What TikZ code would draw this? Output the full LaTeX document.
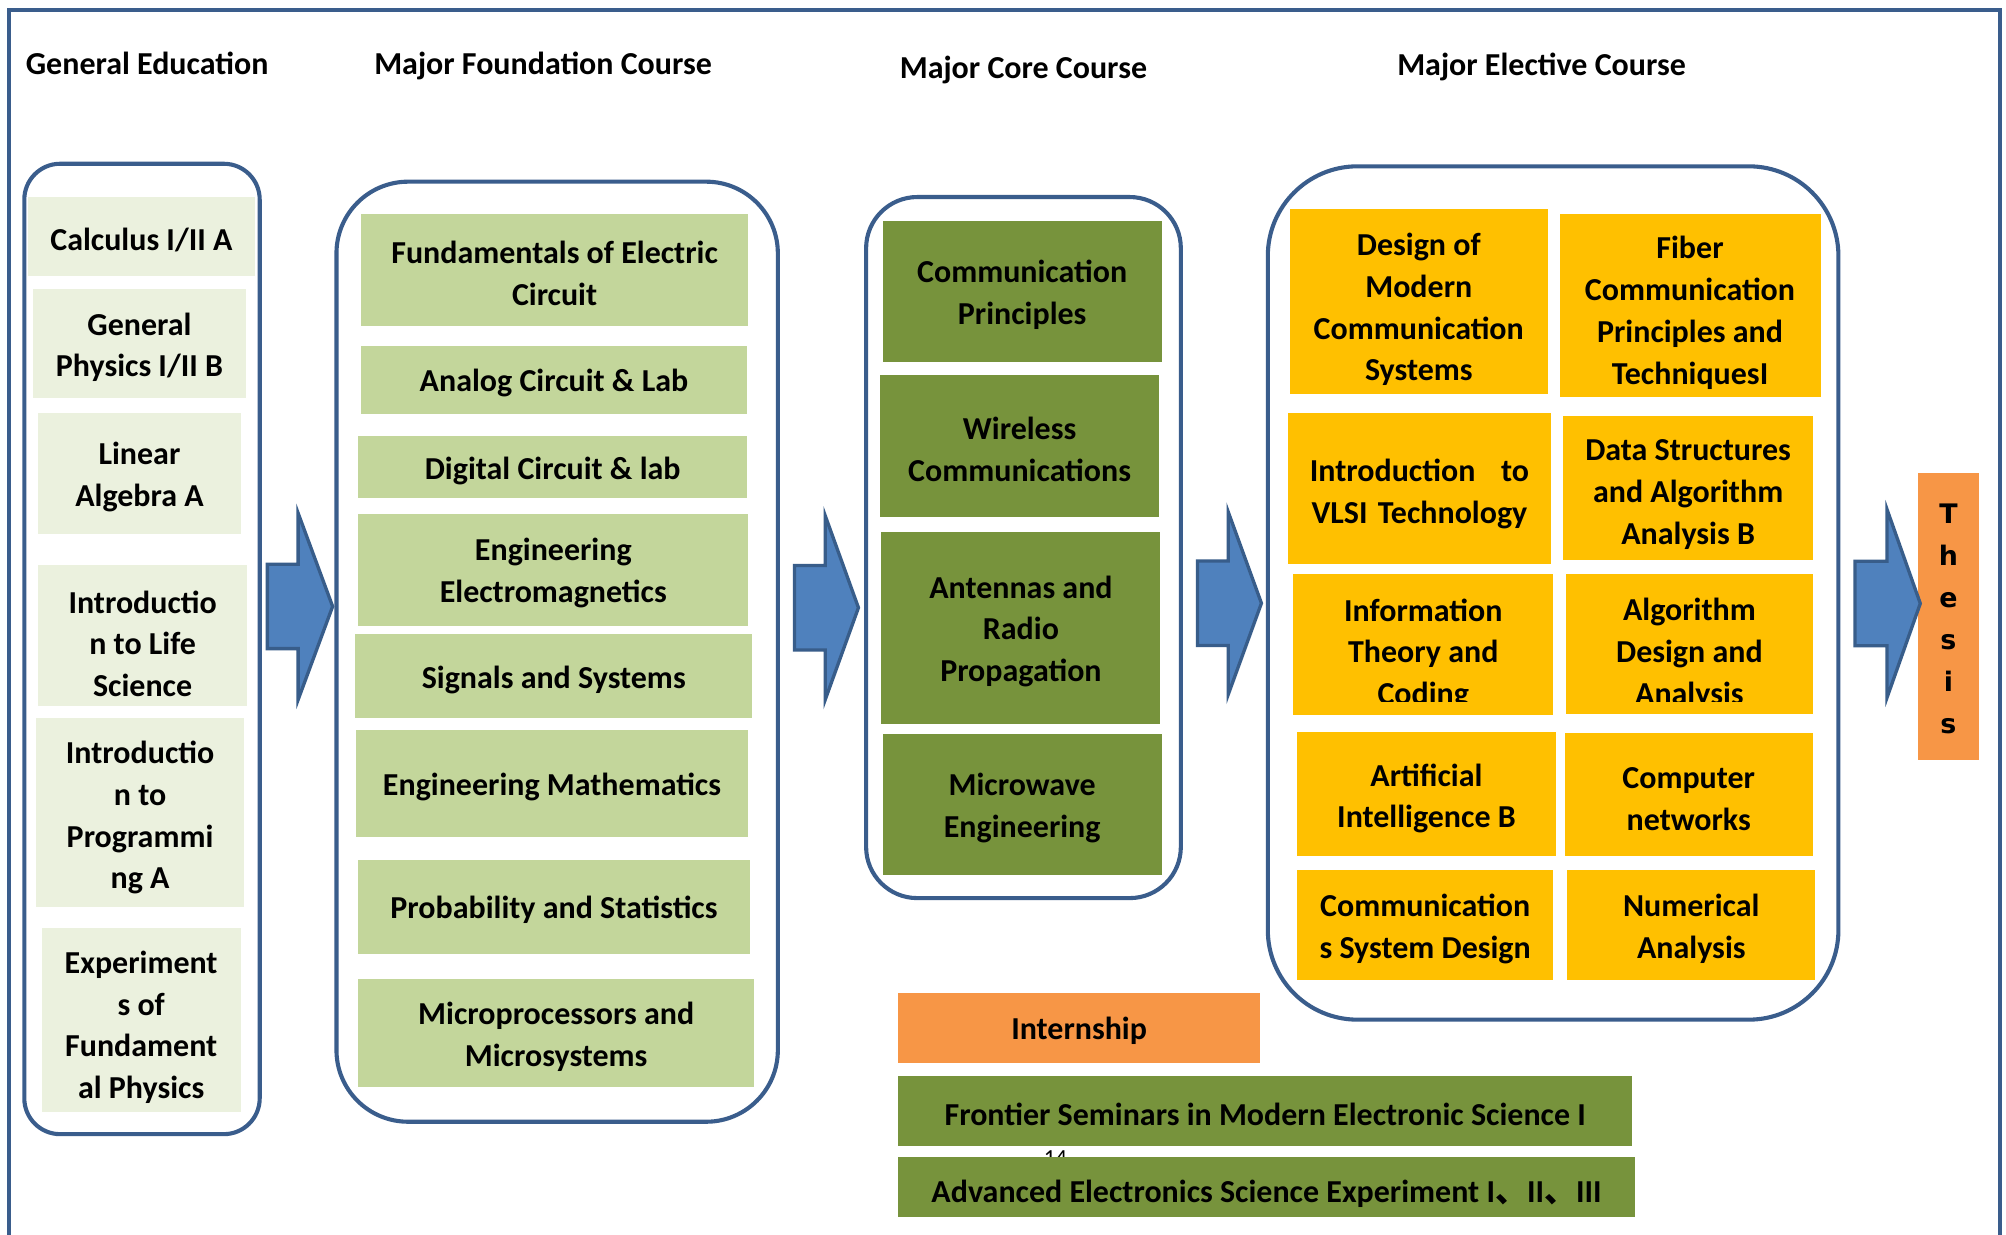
\documentclass[tikz,border=0pt]{standalone}
\usepackage{fontspec}
\setmainfont{Carlito}
\newfontfamily\cjk{Noto Sans CJK SC}
\newfontfamily\thesisfont{DejaVu Sans}
\definecolor{edge}{HTML}{3A5D8C}
\definecolor{gefill}{HTML}{EBF1DE}
\definecolor{fdfill}{HTML}{C3D69B}
\definecolor{corefill}{HTML}{77933C}
\definecolor{elfill}{HTML}{FFC000}
\definecolor{orfill}{HTML}{F79646}
\definecolor{arfill}{HTML}{4F81BD}
\definecolor{arline}{HTML}{385D8A}
\newcommand\cbox[8]{%
  \node[#2, minimum width={(#5-#3)*0.5pt}, minimum height={(#6-#4)*0.5pt}] (#1) at ({(#3+#5)/2},{(#4+#6)/2}) {};
  \node[txt] (#1t) at ([yshift={-(#8+2.5)*0.5pt}]#1.center) {#7};}
\newcommand\ccbox[9]{%
  \node[#2, minimum width={(#5-#3)*0.5pt}, minimum height={(#6-#4)*0.5pt}] (#1) at ({(#3+#5)/2},{(#4+#6)/2}) {};
  \begin{scope}
    \clip (#3,#4) rectangle (#5,#9);
    \node[txt] (#1t) at ([yshift={-(#8+2.5)*0.5pt}]#1.center) {#7};
  \end{scope}}
\newcommand\gframe[6]{%
  \node[grp, rounded corners=#6, minimum width={(#4-#2)*0.5pt}, minimum height={(#5-#3)*0.5pt}] (#1) at ({(#2+#4)/2},{(#3+#5)/2}) {};}
\newcommand\barrow[6]{%
  \draw[arrowsty] (#1,{#4-#5}) -- (#2,{#4-#5}) -- (#2,{#4-#6}) -- (#3,#4) -- (#2,{#4+#6}) -- (#2,{#4+#5}) -- (#1,{#4+#5}) -- cycle;}
\begin{document}
\begin{tikzpicture}[x=0.5pt,y=-0.5pt,
  txt/.style={font=\fontsize{12.5pt}{16.3pt}\selectfont\bfseries, align=center, inner sep=0pt, text=black},
  head/.style={txt, anchor=base},
  bx/.style={inner sep=0pt, outer sep=0pt, draw=none},
  gebox/.style={bx, fill=gefill},
  fdbox/.style={bx, fill=fdfill},
  cobox/.style={bx, fill=corefill},
  elbox/.style={bx, fill=elfill},
  orbox/.style={bx, fill=orfill},
  grp/.style={draw=edge, line width=1.6pt, inner sep=0pt, fill=none},
  outer/.style={draw=edge, line width=1.5pt},
  arrowsty/.style={fill=arfill, draw=arline, line width=1.3pt, line join=miter},
  thtxt/.style={font=\fontsize{10.5pt}{16.4pt}\selectfont\thesisfont\bfseries, align=center, inner sep=0pt, text=black},
  pgnum/.style={font=\fontsize{9pt}{10pt}\selectfont, anchor=base, inner sep=0pt}
]
\path[use as bounding box, fill=white] (0,0) rectangle (1568,965);
\draw[outer] (7,1000) -- (7,8) -- (1563,8) -- (1563,1000);

% headings
\node[head] (h1) at (115,58) {General Education};
\node[head] (h2) at (424.5,58) {Major Foundation Course};
\node[head] (h3) at (800,61.5) {Major Core Course};
\node[head] (h4) at (1205,59) {Major Elective Course};

% group frames
\gframe{ge}{19}{128}{203}{886.5}{14pt}
\gframe{fd}{263}{142}{608}{876.8}{28pt}
\gframe{co}{677}{154}{923}{702}{20pt}
\gframe{el}{991}{130}{1437}{797}{35pt}

% general education
\cbox{g1}{gebox}{22}{154}{199}{215.5}{Calculus I/II A}{0}
\cbox{g2}{gebox}{26}{226}{192}{311}{General\\Physics I/II B}{0.5}
\cbox{g3}{gebox}{30}{323}{188}{417.5}{Linear\\Algebra A}{0}
\cbox{g4}{gebox}{30}{441.6}{193}{551.6}{Introductio\\n to Life\\Science}{4}
\cbox{g5}{gebox}{28}{561.5}{191}{708.7}{Introductio\\n to\\Programmi\\ng A}{1.5}
\cbox{g6}{gebox}{32.7}{725}{188}{869}{Experiment\\s of\\Fundament\\al Physics}{3.5}

% foundation
\cbox{f1}{fdbox}{282}{167}{585}{255}{Fundamentals of Electric\\Circuit}{0}
\cbox{f2}{fdbox}{282}{270.5}{584}{323.6}{Analog Circuit \& Lab}{0}
\cbox{f3}{fdbox}{280}{340.8}{584}{389}{Digital Circuit \& lab}{1}
\cbox{f4}{fdbox}{280}{401.8}{585}{489}{Engineering\\Electromagnetics}{0}
\cbox{f5}{fdbox}{277.6}{495.8}{588}{561.5}{Signals and Systems}{0}
\cbox{f6}{fdbox}{278}{570.6}{585}{654}{Engineering Mathematics}{0}
\cbox{f7}{fdbox}{280}{672}{586}{746}{Probability and Statistics}{0}
\cbox{f8}{fdbox}{280}{765.3}{589.5}{850}{Microprocessors and\\Microsystems}{0}

% core
\cbox{c1}{cobox}{690}{173}{908}{283}{Communication\\Principles}{0}
\cbox{c2}{cobox}{688}{293}{906}{404}{Wireless\\Communications}{0}
\cbox{c3}{cobox}{689}{416}{907}{566}{Antennas and\\Radio\\Propagation}{0}
\cbox{c4}{cobox}{690}{574}{908}{684}{Microwave\\Engineering}{0}

% elective
\cbox{e1}{elbox}{1008}{163}{1210}{308}{Design of\\Modern\\Communication\\Systems}{4}
\cbox{e2}{elbox}{1219}{167}{1423}{310}{Fiber\\Communication\\Principles and\\TechniquesI}{3.5}
\cbox{e3}{elbox}{1007}{323}{1212}{441}{Introduction\hspace{10pt}to\\VLSI\hspace{4pt}Technology}{1.5}
\cbox{e4}{elbox}{1222}{325}{1417}{438}{Data Structures\\and Algorithm\\Analysis B}{2.5}
\ccbox{e5}{elbox}{1011}{449}{1214}{559}{Information\\Theory and\\Coding}{5}{548}
\ccbox{e6}{elbox}{1224}{449}{1417}{558}{Algorithm\\Design and\\Analysis}{5}{548}
\cbox{e7}{elbox}{1014}{572}{1216}{669}{Artificial\\Intelligence B}{1}
\cbox{e8}{elbox}{1223}{573}{1417}{669}{Computer\\networks}{1}
\cbox{e9}{elbox}{1014}{680}{1214}{766}{Communication\\s System Design}{0.5}
\cbox{e10}{elbox}{1225}{680}{1419}{766}{Numerical\\Analysis}{0.5}

% bottom bars
\node[pgnum] (pg) at (825,911) {14};
\cbox{b1}{orbox}{702}{776}{985}{830.7}{Internship}{0}
\cbox{b2}{cobox}{702}{841}{1276}{895.6}{Frontier Seminars in Modern Electronic Science I}{0}
\cbox{b3}{cobox}{702}{904}{1278}{951}{Advanced Electronics Science Experiment I{\cjk 、}II{\cjk 、}III}{3}

% thesis
\node[orbox, minimum width={48*0.5pt}, minimum height={224.6*0.5pt}] (th) at (1523,481.7) {};
\node[thtxt] (tht) at (1523,484) {T\\h\\e\\s\\i\\s};

% block arrows
\barrow{209}{233}{260}{474}{33}{73}
\barrow{621}{645}{671}{475}{33}{72}
\barrow{936}{960}{986}{471.5}{33}{71.5}
\barrow{1450}{1475}{1501}{471.7}{33}{73.5}
\end{tikzpicture}
\end{document}
